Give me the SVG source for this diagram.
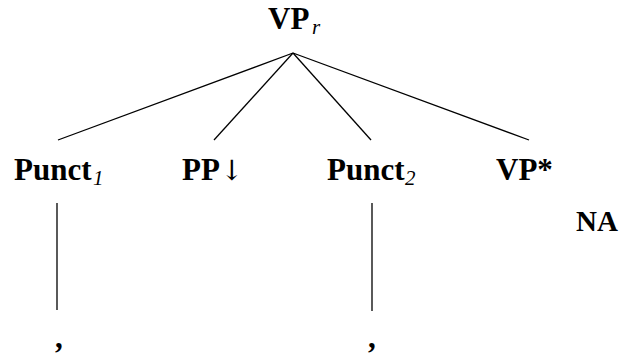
<svg xmlns="http://www.w3.org/2000/svg" width="621" height="360" viewBox="0 0 621 360">
<style>
text{font-family:'Liberation Serif','Times New Roman',serif;fill:#000}
.lbl{font-weight:bold;font-size:31px}
.sub{font-style:italic;font-weight:normal;font-size:21px}
.arr{font-weight:normal;font-size:28px;font-family:'DejaVu Serif',serif}
.edge{stroke:#000;stroke-width:1.3;fill:none}
</style>
<rect width="621" height="360" fill="#fff"/>
<g id="edges">
<line class="edge" x1="293" y1="53" x2="58" y2="140"/>
<line class="edge" x1="293" y1="53" x2="214" y2="140"/>
<line class="edge" x1="293" y1="53" x2="371" y2="140"/>
<line class="edge" x1="293" y1="53" x2="529" y2="140"/>
<line class="edge" x1="57" y1="203" x2="57" y2="310"/>
<line class="edge" x1="372" y1="203" x2="372" y2="311"/>
</g>
<g id="vp-root"><text class="lbl" x="268" y="29">VP<tspan class="sub" x="312" y="34">r</tspan></text></g>
<g id="punct1"><text class="lbl" x="14" y="180">Punct<tspan class="sub" x="93" y="185">1</tspan></text></g>
<g id="pp"><text class="lbl" x="182" y="180">PP<tspan class="arr">↓</tspan></text></g>
<g id="punct2"><text class="lbl" x="327" y="180">Punct<tspan class="sub" x="405" y="185">2</tspan></text></g>
<g id="vp-foot"><text class="lbl" x="496" y="180">VP*</text></g>
<g id="na"><text class="lbl" x="576" y="231" style="font-size:29px">NA</text></g>
<g id="comma1"><text class="lbl" x="55" y="348">,</text></g>
<g id="comma2"><text class="lbl" x="368" y="348">,</text></g>
</svg>
